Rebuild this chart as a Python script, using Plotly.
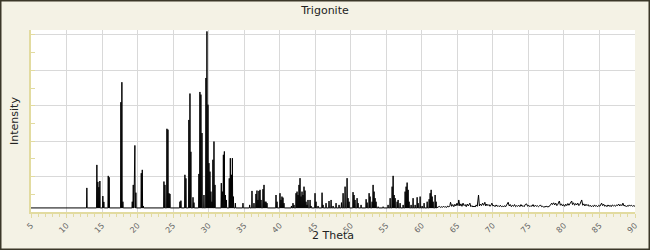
import plotly.graph_objects as go

title_text = "Trigonite"
x_title = "2 Theta"
y_title = "Intensity"

baseline = 2.3

peak_theta = [
    12.86, 14.27, 14.41, 14.55, 14.69, 15.11, 15.25, 15.87, 16.00,
    17.65, 17.79, 17.93, 19.25, 19.39, 19.53, 19.62, 19.76, 20.52, 20.66, 20.80,
    23.71, 23.85, 24.13, 24.27, 24.41, 24.55, 25.96, 26.10, 26.66, 26.80,
    27.22, 27.37, 27.50, 27.80, 27.93, 28.63, 28.77, 28.91, 29.06, 29.34,
    29.62, 29.76, 29.90, 30.04, 30.18, 30.32, 30.46, 30.60, 30.75, 30.89,
    31.78, 31.93, 32.07, 32.21, 32.35, 32.49, 32.90, 33.05, 33.20, 33.34,
    33.48, 33.76, 34.83, 35.77, 36.10, 36.38, 36.66, 36.80, 36.94, 37.08,
    37.23, 37.37, 37.65, 37.79, 37.93, 38.07, 38.21, 39.48, 39.62, 40.04,
    40.18, 40.32, 40.46, 40.60, 41.65, 41.87, 42.01, 42.30, 42.44, 42.58,
    42.72, 42.86, 43.00, 43.14, 43.28, 43.42, 43.56, 43.70, 43.84, 43.98,
    44.27, 44.41, 44.97, 45.11, 45.40, 45.96, 46.10, 46.52, 46.94, 47.23,
    47.51, 47.93, 48.35, 48.69, 48.92, 49.20, 49.48, 49.62, 49.76, 50.32,
    50.46, 50.60, 50.89, 51.03, 51.45, 52.16, 52.30, 52.58, 52.72, 53.00,
    53.14, 53.28, 53.42, 53.56, 53.85, 54.55, 55.25, 55.54, 55.82, 55.96,
    56.10, 56.24, 56.52, 56.66, 56.94, 57.37, 57.65, 57.79, 57.93, 58.07,
    58.21, 58.49, 58.77, 59.06, 59.34, 59.48, 59.76, 60.04, 60.32, 60.75,
    61.03, 61.17, 61.31, 61.45, 61.59, 61.87, 62.01,
]
peak_intensity = [
    13.6, 26.6, 17.0, 14.0, 17.5, 9.0, 5.7, 20.4, 19.6,
    62.0, 73.3, 5.8, 5.8, 15.3, 17.7, 37.6, 10.9, 21.9, 23.8, 3.4,
    17.2, 15.3, 47.0, 46.5, 10.6, 10.2, 5.8, 6.4, 21.0, 19.0,
    52.0, 66.9, 34.0, 8.3, 5.3, 21.5, 67.8, 66.3, 44.6, 9.6,
    75.7, 102.0, 60.6, 27.6, 22.8, 11.5, 5.8, 29.5, 39.8, 15.3,
    16.3, 11.5, 32.3, 34.2, 9.6, 6.8, 19.0, 30.4, 21.0, 30.4,
    8.7, 5.0, 5.0, 4.0, 11.9, 5.0, 10.2, 12.1, 6.8, 11.9,
    12.5, 6.8, 12.9, 15.3, 5.8, 5.8, 5.0, 9.6, 5.8, 10.6,
    6.8, 8.7, 8.1, 5.0, 3.4, 5.0, 4.0, 10.6, 11.5, 9.6,
    15.3, 19.1, 8.7, 11.5, 9.6, 14.3, 12.1, 5.8, 4.0, 6.8,
    6.8, 3.4, 10.6, 5.8, 3.4, 10.9, 4.0, 5.0, 6.2, 6.8,
    3.4, 5.0, 4.0, 5.3, 10.6, 14.3, 19.1, 7.8, 5.8, 11.2,
    9.6, 6.8, 7.8, 5.0, 4.0, 7.2, 5.3, 10.6, 8.7, 5.8,
    15.3, 11.5, 7.8, 5.8, 3.0, 3.0, 4.0, 7.8, 14.3, 20.4,
    9.6, 7.8, 5.8, 6.8, 5.0, 4.0, 11.5, 14.3, 16.6, 12.5,
    5.8, 4.0, 7.8, 4.0, 8.3, 5.0, 8.7, 3.4, 5.0, 5.8,
    7.2, 10.6, 12.5, 8.7, 5.8, 9.6, 5.8,
]

tail_theta = [
    62.3, 62.45, 62.6, 62.75, 62.9, 63.05, 63.2, 63.35, 63.5, 63.65, 63.8, 63.95,
    64.04, 64.2, 64.35, 64.5, 64.65, 64.8, 64.95, 65.1, 65.2, 65.35, 65.5, 65.65,
    65.8, 65.95, 66.1, 66.25, 66.4, 66.55, 66.76, 66.9, 67.05, 67.2, 67.35, 67.5,
    67.65, 67.8, 67.98, 68.1, 68.25, 68.4, 68.55, 68.7, 68.87, 69.0, 69.15, 69.3,
    69.45, 69.6, 69.75, 69.86, 70.0, 70.15, 70.3, 70.45, 70.6, 70.75, 70.9, 71.05,
    71.2, 71.35, 71.5, 71.65, 71.8, 71.95, 72.15, 72.3, 72.45, 72.6, 72.75, 72.9,
    73.05, 73.2, 73.35, 73.5, 73.65, 73.8, 73.95, 74.1, 74.25, 74.4, 74.55, 74.74,
    74.9, 75.05, 75.2, 75.35, 75.5, 75.65, 75.8, 75.95, 76.1, 76.25, 76.4, 76.55,
    76.7, 76.85, 77.0, 77.15, 77.3, 77.45, 77.6, 77.75, 77.9, 78.05, 78.27, 78.4,
    78.55, 78.7, 78.85, 79.0, 79.15, 79.35, 79.5, 79.65, 79.8, 79.95, 80.1, 80.25,
    80.4, 80.55, 80.7, 80.85, 81.09, 81.2, 81.35, 81.5, 81.65, 81.8, 81.95, 82.1,
    82.25, 82.5, 82.65, 82.8, 82.95, 83.1, 83.25, 83.4, 83.55, 83.7, 83.85, 84.0,
    84.15, 84.3, 84.45, 84.6, 84.75, 84.9, 85.05, 85.3, 85.45, 85.6, 85.75, 85.9,
    86.05, 86.2, 86.35, 86.5, 86.65, 86.8, 86.95, 87.1, 87.25, 87.4, 87.55, 87.7,
    87.85, 88.0, 88.15, 88.3, 88.45, 88.6, 88.75, 88.9, 89.05, 89.2, 89.35, 89.5,
    89.65, 89.8, 90.0,
]
tail_intensity = [
    2.8, 3.2, 2.6, 3.0, 2.6, 3.3, 2.7, 3.0, 2.6, 3.4, 2.8, 3.6,
    5.5, 3.2, 4.2, 3.0, 4.4, 3.4, 5.0, 3.6, 6.8, 3.4, 4.6, 3.2,
    5.0, 3.6, 4.2, 3.0, 4.5, 3.4, 5.0, 3.0, 3.6, 2.8, 3.4, 2.8,
    4.0, 3.2, 9.6, 3.4, 4.5, 3.6, 5.0, 3.8, 5.5, 3.4, 4.5, 3.6,
    4.2, 3.2, 4.0, 5.0, 3.4, 3.8, 3.0, 4.0, 3.2, 3.6, 3.0, 3.8,
    3.0, 3.4, 2.8, 3.6, 3.0, 4.2, 5.5, 3.4, 4.2, 3.0, 3.8, 3.2,
    4.2, 3.0, 3.6, 3.2, 3.8, 3.0, 4.2, 3.2, 3.6, 3.0, 4.2, 4.6,
    3.2, 3.8, 3.0, 3.6, 3.2, 4.2, 3.0, 3.8, 3.2, 3.6, 3.0, 3.4,
    4.0, 3.0, 3.2, 2.8, 3.0, 2.8, 3.2, 2.8, 3.0, 3.6, 5.0, 4.2,
    5.2, 4.0, 5.0, 3.6, 4.4, 6.2, 3.8, 4.6, 3.4, 4.2, 3.2, 4.4,
    3.6, 4.8, 3.8, 4.6, 6.2, 4.2, 5.2, 3.8, 4.8, 4.0, 5.0, 3.6,
    4.4, 6.8, 3.8, 4.6, 3.4, 4.4, 3.6, 4.2, 3.2, 3.8, 3.0, 3.6,
    3.0, 4.0, 3.2, 3.6, 3.0, 3.8, 3.2, 5.0, 3.6, 4.4, 3.2, 3.8,
    3.0, 4.0, 3.2, 3.8, 3.0, 4.0, 3.4, 3.8, 3.2, 4.0, 3.6, 4.5,
    3.4, 4.2, 3.6, 5.0, 3.4, 3.8, 3.0, 3.6, 3.2, 4.0, 3.4, 3.8,
    3.2, 3.6, 3.2,
]

# build the diffractogram profile: flat baseline, narrow peaks, then the noisy tail
xs = [5.0]
ys = [baseline]
half = 0.045
for t, h in zip(peak_theta, peak_intensity):
    xs += [t - half, t, t + half]
    ys += [baseline, h, baseline]
xs += tail_theta
ys += tail_intensity

fig = go.Figure()
fig.add_trace(go.Scatter(
    x=xs, y=ys, mode="lines",
    line=dict(color="#000000", width=1),
    hoverinfo="skip", showlegend=False,
))

W, H = 650, 250
ml, mr, mt, mb = 31, 15, 30, 38
pw, ph = W - ml - mr, H - mt - mb

axis_col = "#e2dba0"
grid_col = "#d9d9d9"
font_fam = "DejaVu Sans"

fig.update_layout(
    width=W, height=H,
    margin=dict(l=ml, r=mr, t=mt, b=mb, pad=0, autoexpand=False),
    paper_bgcolor="#f4f2e5",
    plot_bgcolor="#ffffff",
    font=dict(family=font_fam, color="#222222"),
    title=dict(text=title_text, x=0.5, xref="container", xanchor="center",
               y=1 - 10 / H, yref="container", yanchor="middle",
               font=dict(size=11, color="#222222", family=font_fam)),
    xaxis=dict(
        range=[5, 90], tick0=5, dtick=5, showgrid=True, gridcolor=grid_col, gridwidth=1,
        zeroline=False, showline=True, linecolor=axis_col, linewidth=1.5,
        ticks="outside", ticklen=4, tickcolor=axis_col, tickwidth=1,
        minor=dict(dtick=1, ticks="outside", ticklen=3, tickcolor=axis_col, showgrid=False),
        tickangle=-45, tickfont=dict(size=8, color="#666666", family=font_fam),
        automargin=False, fixedrange=True,
    ),
    yaxis=dict(
        range=[0, 102.8], tick0=0, dtick=20, showgrid=True, gridcolor=grid_col, gridwidth=1,
        zeroline=False, showline=True, linecolor=axis_col, linewidth=1.5,
        ticks="inside", ticklen=4, tickcolor=axis_col, tickwidth=1,
        minor=dict(dtick=10, ticks="inside", ticklen=4, tickcolor=axis_col, showgrid=False),
        showticklabels=False,
        title=dict(text=y_title, standoff=8, font=dict(size=11, color="#222222")),
        automargin=False, fixedrange=True,
    ),
    annotations=[dict(
        text=x_title, xref="paper", yref="paper", x=0.5, y=-(235 - (H - mb)) / ph,
        xanchor="center", yanchor="middle", showarrow=False,
        font=dict(size=11, color="#222222", family=font_fam),
    )],
    shapes=[dict(
        type="rect", xref="paper", yref="paper", layer="above",
        x0=-(ml - 0.75) / pw, x1=1 + (mr - 0.75) / pw,
        y0=-(mb - 0.75) / ph, y1=1 + (mt - 0.75) / ph,
        line=dict(color="#3a3729", width=1.5), fillcolor="rgba(0,0,0,0)",
    )],
)

fig.write_html("out.html")
